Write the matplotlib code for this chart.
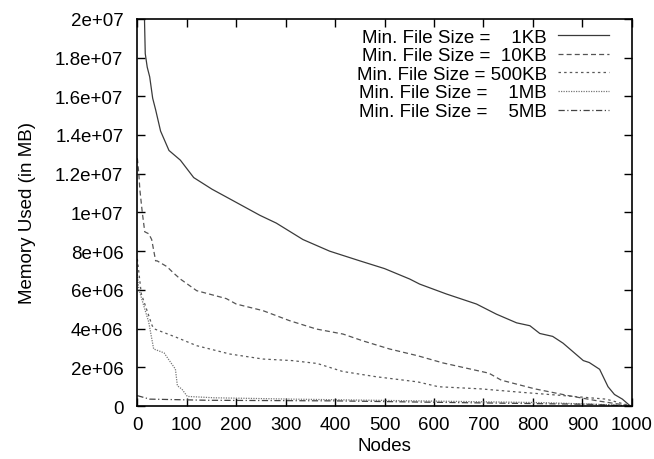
import matplotlib
matplotlib.use('Agg')
import matplotlib.pyplot as plt

plt.rcParams['font.family'] = ['Liberation Sans', 'DejaVu Sans']

# values (node index, memory used)
kb1_x = [0, 14, 16, 20, 25, 31, 37, 47, 64, 87, 114, 151, 187, 248, 281, 335,
         389, 450, 500, 551, 571, 625, 686, 726, 767, 794, 814, 840, 861, 902,
         914, 935, 952, 965, 981, 995, 1000]
kb1_y = [2.8e7, 2.05e7, 1.82e7, 1.75e7, 1.7e7, 1.59e7, 1.53e7, 1.42e7, 1.32e7,
         1.27e7, 1.18e7, 1.12e7, 1.07e7, 9.85e6, 9.45e6, 8.6e6, 8.0e6, 7.5e6,
         7.1e6, 6.56e6, 6.3e6, 5.79e6, 5.27e6, 4.75e6, 4.3e6, 4.15e6, 3.75e6,
         3.6e6, 3.25e6, 2.35e6, 2.25e6, 1.9e6, 1.0e6, 0.6e6, 0.36e6, 0.05e6, 0]

kb10_x = [0, 3, 5, 10, 15, 23, 29, 37, 40, 60, 72, 87, 120, 180, 200, 254, 308,
          362, 416, 456, 510, 567, 618, 711, 736, 804, 872, 931, 1000]
kb10_y = [1.28e7, 1.2e7, 1.12e7, 1.0e7, 9.0e6, 8.9e6, 8.6e6, 7.5e6, 7.5e6,
          7.2e6, 6.9e6, 6.56e6, 5.96e6, 5.55e6, 5.27e6, 4.93e6, 4.41e6, 3.98e6,
          3.72e6, 3.37e6, 2.95e6, 2.6e6, 2.23e6, 1.7e6, 1.34e6, 0.89e6, 0.54e6,
          0.27e6, 0]

kb500_x = [0, 8, 22, 30, 35, 79, 120, 187, 254, 313, 364, 415, 482, 567, 609,
           694, 778, 863, 948, 1000]
kb500_y = [7.6e6, 5.8e6, 4.75e6, 4.15e6, 3.98e6, 3.55e6, 3.12e6, 2.69e6,
           2.43e6, 2.35e6, 2.2e6, 1.79e6, 1.52e6, 1.25e6, 1.0e6, 0.89e6, 0.71e6,
           0.54e6, 0.36e6, 0]

mb1_x = [0, 3, 13, 23, 33, 54, 67, 77, 81, 90, 101, 155, 313, 567, 821, 990, 1000]
mb1_y = [6.8e6, 6.05e6, 5.18e6, 4.34e6, 2.95e6, 2.75e6, 2.27e6, 1.91e6, 1.05e6,
         0.88e6, 0.5e6, 0.43e6, 0.36e6, 0.27e6, 0.18e6, 0.04e6, 0]

mb5_x = [0, 25, 144, 398, 651, 922, 1000]
mb5_y = [0.54e6, 0.36e6, 0.3e6, 0.27e6, 0.18e6, 0.09e6, 0]

labels = ['Min. File Size =    1KB', 'Min. File Size =  10KB',
          'Min. File Size = 500KB', 'Min. File Size =    1MB',
          'Min. File Size =    5MB']

x_ticks = list(range(0, 1001, 100))
y_ticks = [i * 2e6 for i in range(11)]
y_ticklabels = ['0', '2e+06', '4e+06', '6e+06', '8e+06', '1e+07',
                '1.2e+07', '1.4e+07', '1.6e+07', '1.8e+07', '2e+07']

fs = 13.5

fig = plt.figure(figsize=(6.54, 4.6), dpi=100)
ax = fig.add_axes([0.210, 0.115, 0.756, 0.842])

series = [
    (kb1_x, kb1_y, '#3a3a3a', '-'),
    (kb10_x, kb10_y, '#555555', (0, (4, 2.5))),
    (kb500_x, kb500_y, '#5a5a5a', (0, (2, 2.5))),
    (mb1_x, mb1_y, '#777777', (0, (1, 1))),
    (mb5_x, mb5_y, '#444444', (0, (5, 2, 1, 2))),
]
for (xs, ys, c, ls), lab in zip(series, labels):
    ax.plot(xs, ys, color=c, linestyle=ls, linewidth=0.9, label=lab)

ax.set_xlim(0, 1000)
ax.set_ylim(0, 2e7)
ax.set_xticks(x_ticks)
ax.set_yticks(y_ticks)
ax.set_yticklabels(y_ticklabels)
ax.tick_params(direction='in', top=True, right=True, length=6,
               width=1, labelsize=fs)
ax.tick_params(axis='x', pad=7)
ax.tick_params(axis='y', pad=10)
for s in ax.spines.values():
    s.set_linewidth(1.2)

ax.set_xlabel('Nodes', fontsize=fs, labelpad=3)
ax.set_ylabel('Memory Used (in MB)', fontsize=fs, labelpad=14)

leg = ax.legend(loc='upper right', bbox_to_anchor=(0.954, 0.975),
                frameon=False, markerfirst=False, fontsize=fs,
                handlelength=2.7, handletextpad=0.6, labelspacing=0.08,
                borderaxespad=0, borderpad=0)

fig.savefig('out.png', dpi=100)
